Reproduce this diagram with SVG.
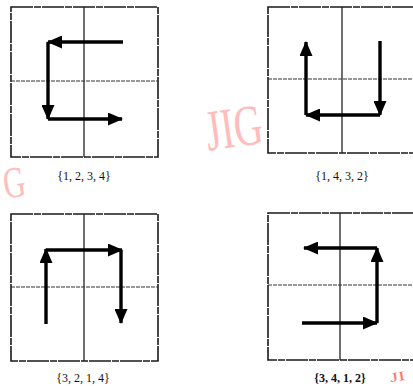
<svg xmlns="http://www.w3.org/2000/svg" width="413" height="386" viewBox="0 0 413 386">
<style>
.frame{fill:none;stroke:#1a1a1a;stroke-width:1.6;stroke-dasharray:22 1 7 1}
.grid{fill:none;stroke:#333;stroke-width:1;stroke-dasharray:4 1}
.gridv{fill:none;stroke:#222;stroke-width:1.3}
.arr{fill:none;stroke:#000;stroke-width:3.4;marker-end:url(#ah)}
.lbl{font-family:"Liberation Serif",serif;font-size:12px;fill:#111;text-anchor:middle}
.wm{font-family:"Liberation Serif",serif;font-size:58px;fill:#ffbcbc}
</style>
<defs>
<marker id="ah" markerUnits="userSpaceOnUse" markerWidth="15" markerHeight="13" viewBox="0 0 15 13" refX="14" refY="6.5" orient="auto">
<path d="M0,0 L15,6.5 L0,13 Z" fill="#000"/>
</marker>
</defs>
<g id="watermarks">
<text class="wm" x="205" y="147" textLength="57" lengthAdjust="spacingAndGlyphs" transform="rotate(-8 233 126)">JIG</text>
<text class="wm" x="3" y="197" textLength="22" lengthAdjust="spacingAndGlyphs" transform="rotate(-8 14 182)" style="font-size:44px">G</text>
<text class="wm" x="390" y="381" textLength="15" lengthAdjust="spacingAndGlyphs" transform="rotate(-8 397 376)" style="fill:#ff7070;font-size:13px">JI</text>
</g>
<g id="panel1">
<rect class="frame" x="11" y="7" width="147" height="150"/>
<line class="gridv" x1="84" y1="7" x2="84" y2="157"/>
<line class="grid" x1="11" y1="81" x2="158" y2="81"/>
<text class="lbl" x="84" y="180">{1, 2, 3, 4}</text>
</g>
<g id="panel2">
<rect class="frame" x="268" y="7" width="148" height="146"/>
<line class="gridv" x1="342" y1="7" x2="342" y2="153"/>
<line class="grid" x1="268" y1="79" x2="416" y2="79"/>
<text class="lbl" x="342" y="180">{1, 4, 3, 2}</text>
</g>
<g id="panel3">
<rect class="frame" x="11" y="214" width="147" height="147"/>
<line class="gridv" x1="84" y1="214" x2="84" y2="361"/>
<line class="grid" x1="11" y1="287" x2="158" y2="287"/>
<text class="lbl" x="83" y="382">{3, 2, 1, 4}</text>
</g>
<g id="panel4">
<rect class="frame" x="268" y="213" width="148" height="147"/>
<line class="gridv" x1="340" y1="213" x2="340" y2="360"/>
<line class="grid" x1="268" y1="285" x2="416" y2="285"/>
<text class="lbl" x="340" y="382" font-weight="bold">{3, 4, 1, 2}</text>
</g>
<g id="connectors">
<line class="arr" x1="123" y1="42" x2="48" y2="42"/>
<line class="arr" x1="48" y1="42" x2="48" y2="119"/>
<line class="arr" x1="48" y1="119" x2="122" y2="119"/>
<line class="arr" x1="380" y1="41" x2="380" y2="115"/>
<line class="arr" x1="380" y1="115" x2="306" y2="115"/>
<line class="arr" x1="306" y1="115" x2="306" y2="42"/>
<line class="arr" x1="46" y1="324" x2="46" y2="249"/>
<line class="arr" x1="46" y1="250" x2="122" y2="250"/>
<line class="arr" x1="121" y1="250" x2="121" y2="323"/>
<line class="arr" x1="302" y1="323" x2="377" y2="323"/>
<line class="arr" x1="377" y1="323" x2="377" y2="248"/>
<line class="arr" x1="377" y1="248" x2="304" y2="248"/>
</g>
</svg>
